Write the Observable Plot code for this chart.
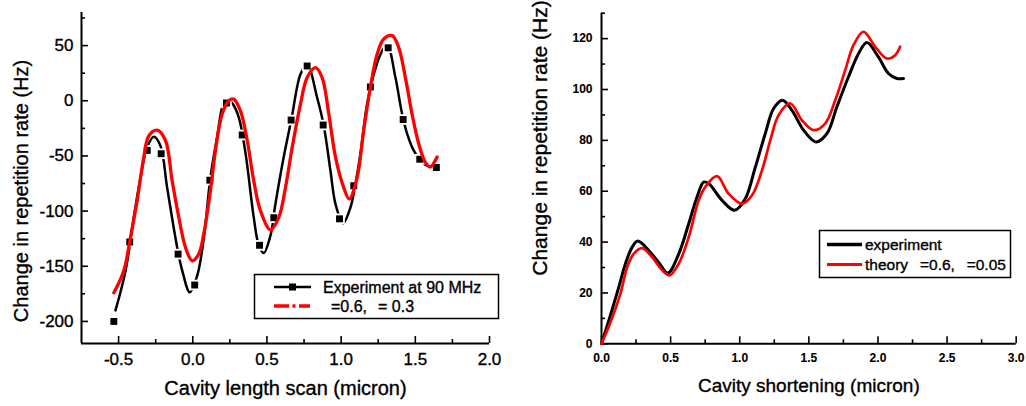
<!DOCTYPE html>
<html><head><meta charset="utf-8">
<script src="https://cdn.jsdelivr.net/npm/d3@7"></script>
<script src="https://cdn.jsdelivr.net/npm/@observablehq/plot@0.6"></script>
<style>
html,body{margin:0;padding:0;background:#fff;}
#wrap{position:relative;width:1026px;height:406px;overflow:hidden;font-family:"Liberation Sans",Arial,sans-serif;}
#wrap > svg{position:absolute;top:0;}
#wrap svg text{stroke:#000;stroke-width:0.35px;}
#right g[aria-label$="tick label"] text{font-weight:bold;stroke-width:0.1px;}
</style></head><body><div id="wrap"></div>
<script>
// ---------- Left panel data ----------
const leftXDomain = [-0.75, 2.0];
const leftYDomain = [-220, 80];
const leftXTicks = [-0.5, 0, 0.5, 1.0, 1.5, 2.0];
const leftXTickLabels = ["-0.5", "0.0", "0.5", "1.0", "1.5", "2.0"];
const leftXMinor = [-0.25, 0.25, 0.75, 1.25, 1.75];
const leftYTicks = [-200, -150, -100, -50, 0, 50];
const leftYTickLabels = ["-200", "-150", "-100", "-50", "0", "50"];
const leftYMinor = [-175, -125, -75, -25, 25, 75];

const leftMarkerX = [-0.532,-0.425,-0.307,-0.213,-0.099,0.013,0.115,0.227,0.333,0.45,0.546,0.663,0.771,0.879,0.989,1.085,1.197,1.317,1.418,1.53,1.642];
const leftMarkerY = [-200,-128,-45,-48,-139,-167,-72,-2,-31,-131,-106,-17.5,31.5,-22,-107,-77,12.5,48,-17,-53,-60.5];

const leftExpX = [-0.521,-0.453,-0.398,-0.352,-0.307,-0.263,-0.218,-0.173,-0.105,-0.071,-0.02,0.03,0.075,0.119,0.164,0.209,0.24,0.27,0.31,0.355,0.411,0.445,0.478,0.524,0.557,0.613,0.665,0.726,0.771,0.838,0.883,0.928,0.962,1.013,1.063,1.096,1.13,1.175,1.22,1.265,1.31,1.366,1.411,1.445,1.489,1.546,1.602,1.635];
const leftExpY = [-190,-154,-106,-69.5,-42,-32.6,-40.8,-78.5,-133,-154,-173.6,-158.5,-124,-69.5,-33,-2,1,-3,-15,-47,-105.7,-131,-138,-122,-93.6,-51,-16.6,24,33,3,-22.6,-63.4,-93.6,-111,-96.6,-75.5,-48,-3,24,42,51,21,-12,-30,-45,-56,-60,-60];

const leftTheoryX = [-0.532,-0.465,-0.42,-0.375,-0.33,-0.296,-0.24,-0.184,-0.139,-0.094,-0.049,-0.004,0.04,0.074,0.119,0.153,0.198,0.243,0.276,0.321,0.367,0.411,0.456,0.524,0.58,0.625,0.67,0.726,0.771,0.827,0.872,0.917,0.962,1.017,1.055,1.108,1.152,1.197,1.243,1.287,1.344,1.388,1.433,1.478,1.523,1.568,1.602,1.635,1.647];
const leftTheoryY = [-174,-154,-124,-90.6,-51,-31.7,-26.6,-36,-72.5,-105.7,-133,-145,-139,-120.7,-81.5,-45,-12,0,1.5,-9,-36,-72.5,-99.6,-117,-105.7,-78.5,-42.3,-3,21,30,21,-12,-51,-78.5,-89,-69.5,-27,12,42.3,56,59,48.3,21,-12,-39,-56,-60,-54,-51];

// ---------- Right panel data ----------
const rightXDomain = [0, 3];
const rightYDomain = [0, 130];
const rightXTicks = [0, 0.5, 1.0, 1.5, 2.0, 2.5, 3.0];
const rightXTickLabels = ["0.0", "0.5", "1.0", "1.5", "2.0", "2.5", "3.0"];
const rightXMinor = [0.25, 0.75, 1.25, 1.75, 2.25, 2.75];
const rightYTicks = [0, 20, 40, 60, 80, 100, 120];
const rightYTickLabels = ["0", "20", "40", "60", "80", "100", "120"];
const rightYMinor = [10, 30, 50, 70, 90, 110, 130];

const rightExpX = [0,0.053,0.125,0.173,0.222,0.262,0.342,0.414,0.48,0.559,0.631,0.691,0.739,0.775,0.872,0.963,1.04,1.113,1.185,1.245,1.31,1.378,1.462,1.551,1.631,1.703,1.787,1.86,1.92,2.003,2.076,2.137,2.184];
const rightExpY = [0,9.2,22.3,31.5,38,40.4,36.7,32,27.8,35.4,47.2,57.7,63.6,63,56.4,52.5,57,69.5,82.7,92.5,95.8,91.8,84,79.4,82.7,93.2,105,114.2,118.5,112.8,106.3,104.3,104.3];

const rightTheoryX = [0,0.065,0.137,0.186,0.233,0.294,0.366,0.439,0.491,0.559,0.631,0.703,0.751,0.836,0.92,1.017,1.089,1.161,1.221,1.281,1.366,1.45,1.534,1.618,1.691,1.763,1.823,1.895,1.98,2.064,2.124,2.16];
const rightTheoryY = [0,8.5,19.7,30.2,35.4,37.6,34.1,28.9,26.9,31.5,42,56.4,61.7,65.9,59,55.1,58.4,68.2,80,89.9,94.5,87.9,84,86.6,95.8,107.6,117.4,122.7,116.8,112.2,113.5,116.8];

// ---------- Texts ----------
const leftXTitle = "Cavity length scan (micron)";
const rightXTitle = "Cavity shortening (micron)";
const yTitle = "Change in repetition rate (Hz)";
const leftLegend = ["Experiment at 90 MHz", "=0.6,", "= 0.3"];
const rightLegend = ["experiment", "theory", "=0.6,", "=0.05"];

const zip = (xs, ys) => xs.map((x, i) => ({x, y: ys[i]}));
const FONT = "'Liberation Sans', Arial, sans-serif";

function frameMarks(xd, yd, xMaj, xMin, yMaj, yMin) {
  return [
    Plot.ruleY([yd[0]], {strokeWidth: 2, stroke: "black"}),
    Plot.ruleX([xd[0]], {strokeWidth: 2, stroke: "black"}),
    Plot.ruleX(xMaj, {x: d => d, y1: () => yd[0], y2: () => yd[0], insetBottom: 7, strokeWidth: 1.6, stroke: "black"}),
    Plot.ruleX(xMin, {x: d => d, y1: () => yd[0], y2: () => yd[0], insetBottom: 4, strokeWidth: 1.6, stroke: "black"}),
    Plot.ruleY(yMaj, {y: d => d, x1: () => xd[0], x2: () => xd[0], insetRight: -7, strokeWidth: 1.6, stroke: "black"}),
    Plot.ruleY(yMin, {y: d => d, x1: () => xd[0], x2: () => xd[0], insetRight: -4, strokeWidth: 1.6, stroke: "black"})
  ];
}

const left = Plot.plot({
  width: 520, height: 406,
  marginLeft: 81, marginRight: 31, marginTop: 12, marginBottom: 63,
  style: {fontFamily: FONT, fontSize: "17px", color: "black", background: "white"},
  x: {domain: leftXDomain, ticks: leftXTicks, tickFormat: d => leftXTickLabels[leftXTicks.indexOf(d)], tickSize: 0, tickPadding: 9, label: null},
  y: {domain: leftYDomain, ticks: leftYTicks, tickFormat: d => leftYTickLabels[leftYTicks.indexOf(d)], tickSize: 0, tickPadding: 8, label: null},
  marks: [
    ...frameMarks(leftXDomain, leftYDomain, leftXTicks, leftXMinor, leftYTicks, leftYMinor),
    Plot.line(zip(leftExpX, leftExpY), {x: "x", y: "y", curve: "catmull-rom", stroke: "black", strokeWidth: 2.5}),
    Plot.dot(zip(leftMarkerX, leftMarkerY), {x: "x", y: "y", symbol: "square", r: 6, fill: "white"}),
    Plot.dot(zip(leftMarkerX, leftMarkerY), {x: "x", y: "y", symbol: "square", r: 3.9, fill: "black"}),
    Plot.line(zip(leftTheoryX, leftTheoryY), {x: "x", y: "y", curve: "catmull-rom", stroke: "#ff0000", strokeWidth: 3.3}),
    Plot.text([leftXTitle], {frameAnchor: "bottom", dy: 45, fontSize: 20, textAnchor: "middle", lineAnchor: "middle", fill: "black"}),
    Plot.text([yTitle], {frameAnchor: "left", rotate: -90, dx: -60, dy: 13, fontSize: 20, textAnchor: "middle", lineAnchor: "middle", fill: "black"})
  ]
});
left.style.left = "0px";

const right = Plot.plot({
  width: 506, height: 406,
  marginLeft: 81, marginRight: 10.3, marginTop: 12.7, marginBottom: 62.7,
  style: {fontFamily: FONT, fontSize: "12px", color: "black", background: "white"},
  x: {domain: rightXDomain, ticks: rightXTicks, tickFormat: d => rightXTickLabels[rightXTicks.indexOf(d)], tickSize: 0, tickPadding: 10, label: null},
  y: {domain: rightYDomain, ticks: rightYTicks, tickFormat: d => rightYTickLabels[rightYTicks.indexOf(d)], tickSize: 0, tickPadding: 9, label: null},
  marks: [
    ...frameMarks(rightXDomain, rightYDomain, rightXTicks, rightXMinor, rightYTicks, rightYMinor),
    Plot.line(zip(rightExpX, rightExpY), {x: "x", y: "y", curve: "catmull-rom", stroke: "black", strokeWidth: 3}),
    Plot.line(zip(rightTheoryX, rightTheoryY), {x: "x", y: "y", curve: "catmull-rom", stroke: "#ff0000", strokeWidth: 2.7}),
    Plot.text([rightXTitle], {frameAnchor: "bottom", dy: 42, fontSize: 19, textAnchor: "middle", lineAnchor: "middle", fill: "black"}),
    Plot.text([yTitle], {frameAnchor: "left", rotate: -90, dx: -61, dy: -40.5, fontSize: 21, textAnchor: "middle", lineAnchor: "middle", fill: "black"})
  ]
});
right.style.left = "520px";
right.id = "right";

const wrap = document.getElementById("wrap");
wrap.appendChild(left);
wrap.appendChild(right);
// bold tick labels on the right panel (axis groups)
right.querySelectorAll("g[aria-label='x-axis tick label'] text, g[aria-label='y-axis tick label'] text, g[aria-label='x-axis'] text, g[aria-label='y-axis'] text")
  .forEach(t => { t.style.fontWeight = "bold"; t.style.strokeWidth = "0.1px"; });

// ---------- Legends (overlay) ----------
const ns = "http://www.w3.org/2000/svg";
const leg = document.createElementNS(ns, "svg");
leg.setAttribute("width", 1026); leg.setAttribute("height", 406);
leg.style.left = "0px"; leg.style.pointerEvents = "none";
leg.style.fontFamily = FONT;
leg.innerHTML = `
  <rect x="254.5" y="274.5" width="244" height="44" fill="white" stroke="black" stroke-width="1.5"/>
  <line x1="274" x2="311" y1="287" y2="287" stroke="black" stroke-width="2.5"/>
  <rect x="289" y="283.5" width="7" height="7" fill="black"/>
  <text x="323" y="287" dy="0.35em" font-size="16">${leftLegend[0]}</text>
  <line x1="274" x2="310" y1="306" y2="306" stroke="#ff0000" stroke-width="3.5" stroke-dasharray="15,3.5,3,3.5,12"/>
  <text x="331" y="306" dy="0.35em" font-size="16">${leftLegend[1]}</text>
  <text x="378" y="306" dy="0.35em" font-size="16">${leftLegend[2]}</text>

  <rect x="819.5" y="230.5" width="191" height="47" fill="white" stroke="black" stroke-width="1.5"/>
  <line x1="827" x2="862" y1="244.5" y2="244.5" stroke="black" stroke-width="3.5"/>
  <text x="865" y="244.5" dy="0.35em" font-size="15.5">${rightLegend[0]}</text>
  <line x1="827" x2="862" y1="264.5" y2="264.5" stroke="#ff0000" stroke-width="3"/>
  <text x="865" y="264.5" dy="0.35em" font-size="15.5">${rightLegend[1]}</text>
  <text x="920" y="264.5" dy="0.35em" font-size="15.5">${rightLegend[2]}</text>
  <text x="966.7" y="264.5" dy="0.35em" font-size="15.5">${rightLegend[3]}</text>
`;
wrap.appendChild(leg);
</script></body></html>
